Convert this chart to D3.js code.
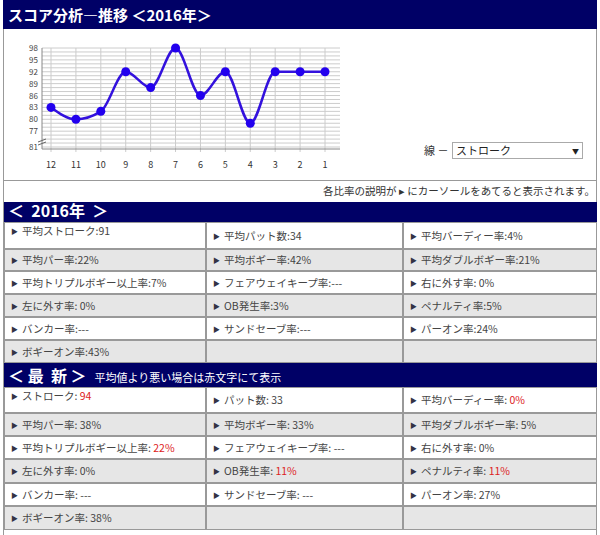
<!DOCTYPE html>
<html><head><meta charset="utf-8">
<script src="https://cdn.jsdelivr.net/npm/d3@7"></script>
<style>body{margin:0;background:#fff}text{font-family:"Noto Sans CJK JP",sans-serif}</style>
</head><body><svg id="c" width="600" height="535"></svg>
<script>
// monthly strokes, newest on the right
const months = ['12','11','10','9','8','7','6','5','4','3','2','1'];
const strokes = [83, 80, 82, 92, 88, 98, 86, 92, 79, 92, 92, 92];
const yTicks = d3.range(73, 99);
const yLabels = [98, 95, 92, 89, 86, 83, 80, 77];

// table cells: [label, value, isRed]
const yearCells = [
  ['平均ストローク:', '91', 0], ['平均パット数:', '34', 0], ['平均バーディー率:', '4%', 0],
  ['平均パー率:', '22%', 0], ['平均ボギー率:', '42%', 0], ['平均ダブルボギー率:', '21%', 0],
  ['平均トリプルボギー以上率:', '7%', 0], ['フェアウェイキープ率:', '---', 0], ['右に外す率:', ' 0%', 0],
  ['左に外す率:', ' 0%', 0], ['OB発生率:', '3%', 0], ['ペナルティ率:', '5%', 0],
  ['バンカー率:', '---', 0], ['サンドセーブ率:', '---', 0], ['パーオン率:', '24%', 0],
  ['ボギーオン率:', '43%', 0], null, null
];
const latestCells = [
  ['ストローク:', ' 94', 1], ['パット数:', ' 33', 0], ['平均バーディー率:', ' 0%', 1],
  ['平均パー率:', ' 38%', 0], ['平均ボギー率:', ' 33%', 0], ['平均ダブルボギー率:', ' 5%', 0],
  ['平均トリプルボギー以上率:', ' 22%', 1], ['フェアウェイキープ率:', ' ---', 0], ['右に外す率:', ' 0%', 0],
  ['左に外す率:', ' 0%', 0], ['OB発生率:', ' 11%', 1], ['ペナルティ率:', ' 11%', 1],
  ['バンカー率:', ' ---', 0], ['サンドセーブ率:', ' ---', 0], ['パーオン率:', ' 27%', 0],
  ['ボギーオン率:', ' 38%', 0], null, null
];

const NAVY = '#000066';
const svg = d3.select('#c');

// frame + title bar
svg.append('rect').attr('x', 3.5).attr('y', 0.5).attr('width', 593).attr('height', 180)
  .attr('fill', '#fff').attr('stroke', '#999');
svg.append('rect').attr('x', 3).attr('y', 0).attr('width', 594).attr('height', 29).attr('fill', NAVY);
svg.append('text').attr('x', 8).attr('y', 21).attr('fill', '#fff').attr('font-size', 15)
  .attr('font-weight', 'bold').text('スコア分析―推移 ＜2016年＞');

// chart
const x = d3.scalePoint().domain(months).range([51, 325]);
const y = d3.scaleLinear().domain([73, 98]).range([147, 48]);
const g = svg.append('g');
g.selectAll('.hg').data(yTicks).enter().append('line')
  .attr('x1', 42).attr('x2', 340).attr('y1', d => y(d)).attr('y2', d => y(d))
  .attr('stroke', '#ccc');
g.selectAll('.vg').data(months).enter().append('line')
  .attr('x1', d => x(d)).attr('x2', d => x(d)).attr('y1', 48).attr('y2', 152)
  .attr('stroke', '#ccc');
g.append('line').attr('x1', 42).attr('x2', 340).attr('y1', 149).attr('y2', 149).attr('stroke', '#888');
g.append('line').attr('x1', 42).attr('x2', 42).attr('y1', 48).attr('y2', 149).attr('stroke', '#888');
g.append('path').attr('d', 'M38,142 l8,-3 M38,145 l8,-3').attr('stroke', '#666');
g.selectAll('.yl').data(yLabels).enter().append('text')
  .attr('x', 38).attr('y', d => y(d) + 3).attr('text-anchor', 'end').attr('font-size', 8)
  .attr('fill', '#444').text(d => d);
g.append('text').attr('x', 38).attr('y', 150).attr('text-anchor', 'end').attr('font-size', 8).attr('fill', '#444').text('81');
g.selectAll('.xl').data(months).enter().append('text')
  .attr('x', d => x(d)).attr('y', 168).attr('text-anchor', 'middle').attr('font-size', 9)
  .attr('fill', '#333').text(d => d);
const line = d3.line().x((d, i) => x(months[i])).y(d => y(d)).curve(d3.curveMonotoneX);
g.append('path').attr('d', line(strokes)).attr('fill', 'none').attr('stroke', '#3311dd').attr('stroke-width', 2.5);
g.selectAll('.pt').data(strokes).enter().append('circle')
  .attr('cx', (d, i) => x(months[i])).attr('cy', d => y(d)).attr('r', 4.5).attr('fill', '#2200ee');

// selector
svg.append('text').attr('x', 424).attr('y', 155).attr('font-size', 11).attr('fill', '#333').text('線 －');
svg.append('rect').attr('x', 452.5).attr('y', 142.5).attr('width', 130).attr('height', 16)
  .attr('fill', '#fff').attr('stroke', '#aaa');
svg.append('text').attr('x', 456).attr('y', 155).attr('font-size', 11).attr('fill', '#222').text('ストローク');
svg.append('text').attr('x', 572).attr('y', 154).attr('font-size', 7).attr('fill', '#222').text('▼');

svg.append('text').attr('x', 595).attr('y', 195).attr('text-anchor', 'end').attr('font-size', 10.5)
  .attr('fill', '#333').text('各比率の説明が ▸ にカーソールをあてると表示されます。');
svg.append('line').attr('x1', 3.5).attr('x2', 3.5).attr('y1', 180).attr('y2', 535).attr('stroke', '#999');
svg.append('line').attr('x1', 596.5).attr('x2', 596.5).attr('y1', 180).attr('y2', 535).attr('stroke', '#999');

const cols = [4, 206, 403, 597];
function table(top, title, note, rowsY, cells) {
  svg.append('rect').attr('x', 4).attr('y', top).attr('width', 593).attr('height', rowsY[0] - top).attr('fill', NAVY);
  const t = svg.append('text').attr('x', 8).attr('y', rowsY[0] - 5).attr('fill', '#fff');
  t.append('tspan').attr('font-size', 16).attr('font-weight', 'bold').attr('xml:space', 'preserve').text(title);
  if (note) t.append('tspan').attr('font-size', 11).attr('dx', 8).text(note);
  cells.forEach((c, k) => {
    const r = Math.floor(k / 3), col = k % 3;
    const y0 = rowsY[r], y1 = rowsY[r + 1];
    svg.append('rect').attr('x', cols[col] + 0.5).attr('y', y0 + 0.5)
      .attr('width', cols[col + 1] - cols[col] - 1).attr('height', y1 - y0 - 1)
      .attr('fill', r % 2 ? '#e6e6e6' : '#fff').attr('stroke', '#999');
    if (!c) return;
    const ty = r === 0 && col === 0 ? y0 + 13 : (y0 + y1) / 2 + 4;
    svg.append('text').attr('x', cols[col] + 7).attr('y', ty - 1).attr('font-size', 7).attr('fill', '#334').text('▶');
    const tx = svg.append('text').attr('x', cols[col] + 18).attr('y', ty).attr('font-size', 10.5).attr('fill', '#444');
    tx.append('tspan').text(c[0]);
    tx.append('tspan').attr('fill', c[2] ? '#dd2222' : '#444').text(c[1]);
  });
}
table(202, '＜  2016年  ＞', '', [222, 249, 271, 294, 317, 340, 363], yearCells);
table(363, '＜ 最  新 ＞', '平均値より悪い場合は赤文字にて表示', [387, 413, 436, 459, 483, 506, 530], latestCells);
</script></body></html>
